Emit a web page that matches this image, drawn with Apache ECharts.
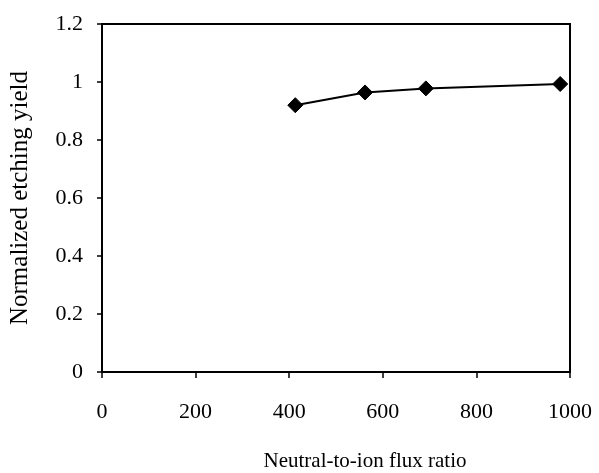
<!DOCTYPE html>
<html>
<head>
<meta charset="utf-8">
<script src="https://cdn.jsdelivr.net/npm/echarts@6/dist/echarts.min.js"></script>
<style>
html,body{margin:0;padding:0;background:#fff;}
#main{width:599px;height:473px;}
</style>
</head>
<body>
<div id="main"></div>
<script>
var fluxRatio = [413, 562, 692, 979];
var etchYield = [0.92, 0.964, 0.978, 0.993];
var xTicks = [0, 200, 400, 600, 800, 1000];
var yTicks = [0, 0.2, 0.4, 0.6, 0.8, 1, 1.2];
var xTitle = 'Neutral-to-ion flux ratio';
var yTitle = 'Normalized etching yield';

var seriesData = fluxRatio.map(function (x, i) { return [x, etchYield[i]]; });
var font = 'Liberation Serif';

var chart = echarts.init(document.getElementById('main'), null, {renderer: 'canvas'});
chart.setOption({
  animation: false,
  backgroundColor: '#fff',
  grid: {
    left: 102, right: 29, top: 24, bottom: 101,
    containLabel: false,
    outerBoundsMode: 'none',
    show: true, borderColor: '#000', borderWidth: 2, backgroundColor: 'transparent'
  },
  xAxis: {
    type: 'value',
    min: xTicks[0], max: xTicks[xTicks.length - 1], interval: 200,
    name: xTitle,
    nameLocation: 'middle',
    nameGap: 79,
    nameTextStyle: {fontFamily: font, fontSize: 21, color: '#000', padding: [0, 0, 0, 58]},
    axisLine: {show: true, onZero: false, lineStyle: {color: '#000', width: 2}},
    axisTick: {show: true, inside: false, length: 6, lineStyle: {color: '#000', width: 1.5}},
    axisLabel: {fontFamily: font, fontSize: 22, color: '#000', margin: 29,
      formatter: function (v) { return String(v); }},
    splitLine: {show: false}
  },
  yAxis: {
    type: 'value',
    min: yTicks[0], max: yTicks[yTicks.length - 1], interval: 0.2,
    name: yTitle,
    nameLocation: 'middle',
    nameGap: 69,
    nameRotate: 90,
    nameTextStyle: {fontFamily: font, fontSize: 25, color: '#000'},
    axisLine: {show: true, onZero: false, lineStyle: {color: '#000', width: 2}},
    axisTick: {show: true, inside: false, length: 5, lineStyle: {color: '#000', width: 1.5}},
    axisLabel: {fontFamily: font, fontSize: 22, color: '#000', margin: 19,
      formatter: function (v) { return String(Math.round(v * 10) / 10); }},
    splitLine: {show: false}
  },
  series: [{
    type: 'line',
    data: seriesData,
    symbol: 'diamond',
    symbolSize: 15,
    showAllSymbol: true,
    lineStyle: {color: '#000', width: 2},
    itemStyle: {color: '#000', borderColor: '#000'}
  }]
});
</script>
</body>
</html>
